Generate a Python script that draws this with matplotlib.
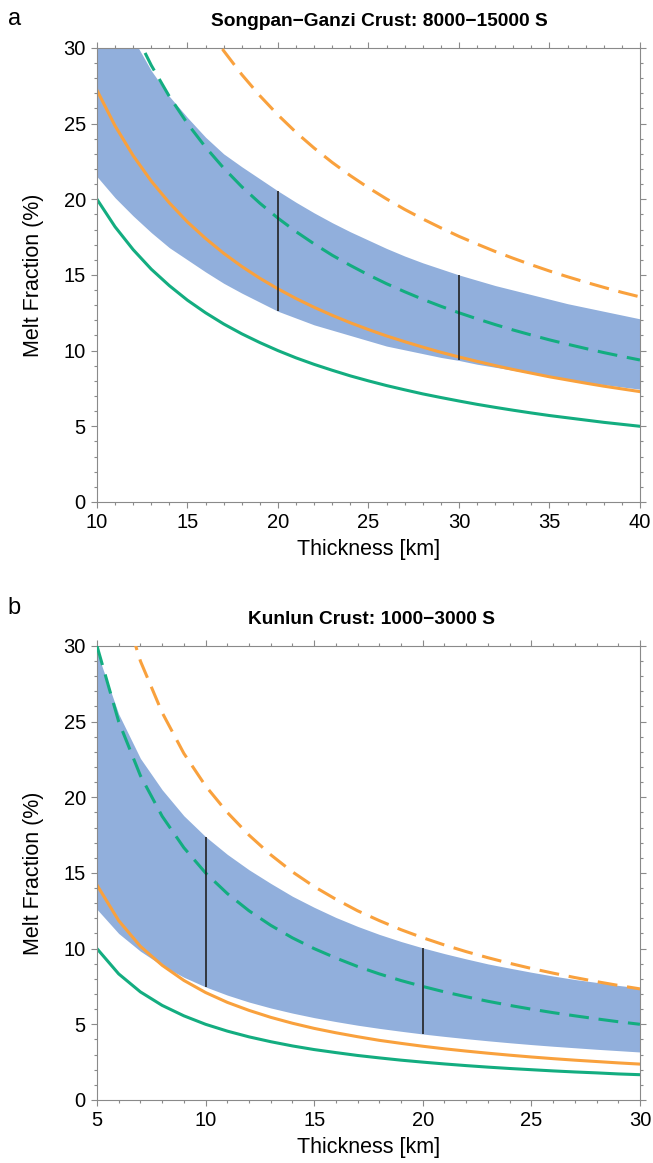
import numpy as np
import matplotlib
matplotlib.use("Agg")
import matplotlib.pyplot as plt
from matplotlib.ticker import MultipleLocator

plt.rcParams['font.family'] = ['Liberation Sans', 'DejaVu Sans']

# ---- panel a: Songpan-Ganzi crust, thickness 10-40 km ----
thick_a = list(range(10, 41))
green_solid_a = [20.0, 18.18, 16.67, 15.38, 14.29, 13.33, 12.5, 11.76, 11.11, 10.53, 10.0,
                 9.52, 9.09, 8.70, 8.33, 8.0, 7.69, 7.41, 7.14, 6.90, 6.67,
                 6.45, 6.25, 6.06, 5.88, 5.71, 5.56, 5.41, 5.26, 5.13, 5.0]
orange_solid_a = [27.2, 24.85, 22.88, 21.2, 19.76, 18.5, 17.41, 16.43, 15.56, 14.78, 14.08,
                  13.44, 12.86, 12.33, 11.84, 11.39, 10.97, 10.59, 10.23, 9.89, 9.58,
                  9.29, 9.01, 8.75, 8.51, 8.27, 8.06, 7.85, 7.65, 7.47, 7.29]
green_dash_a = [37.5, 34.09, 31.25, 28.85, 26.79, 25.0, 23.44, 22.06, 20.83, 19.74, 18.75,
                17.86, 17.05, 16.30, 15.63, 15.0, 14.42, 13.89, 13.39, 12.93, 12.5,
                12.10, 11.72, 11.36, 11.03, 10.71, 10.42, 10.14, 9.87, 9.62, 9.38]
orange_dash_a = [49.62, 45.25, 41.6, 38.52, 35.88, 33.59, 31.58, 29.81, 28.24, 26.84, 25.57,
                 24.42, 23.38, 22.43, 21.56, 20.76, 20.02, 19.33, 18.7, 18.11, 17.55,
                 17.04, 16.55, 16.1, 15.67, 15.26, 14.88, 14.52, 14.18, 13.85, 13.55]
band_hi_a = [35.9, 33.0, 30.6, 28.5, 26.8, 25.4, 24.1, 23.0, 22.15, 21.35, 20.55,
             19.8, 19.1, 18.45, 17.85, 17.3, 16.75, 16.25, 15.8, 15.4, 15.0,
             14.65, 14.3, 14.0, 13.7, 13.4, 13.1, 12.85, 12.6, 12.35, 12.1]
band_lo_a = [21.5, 20.1, 18.9, 17.8, 16.8, 16.0, 15.2, 14.45, 13.8, 13.2, 12.6,
             12.15, 11.7, 11.35, 11.0, 10.65, 10.3, 10.05, 9.8, 9.55, 9.35,
             9.1, 8.9, 8.7, 8.5, 8.3, 8.1, 7.92, 7.75, 7.6, 7.45]
marks_a = [20, 30]

# ---- panel b: Kunlun crust, thickness 5-30 km ----
thick_b = list(range(5, 31))
green_solid_b = [10.0, 8.33, 7.14, 6.25, 5.56, 5.0, 4.55, 4.17, 3.85, 3.57, 3.33, 3.13, 2.94,
                 2.78, 2.63, 2.5, 2.38, 2.27, 2.17, 2.08, 2.0, 1.92, 1.85, 1.79, 1.72, 1.67]
orange_solid_b = [14.2, 11.85, 10.15, 8.9, 7.9, 7.1, 6.45, 5.92, 5.46, 5.07, 4.73, 4.44, 4.18,
                  3.94, 3.74, 3.55, 3.38, 3.23, 3.09, 2.96, 2.84, 2.73, 2.63, 2.54, 2.45, 2.37]
green_dash_b = [30.0, 25.0, 21.43, 18.75, 16.67, 15.0, 13.64, 12.5, 11.54, 10.71, 10.0, 9.38, 8.82,
                8.33, 7.89, 7.5, 7.14, 6.82, 6.52, 6.25, 6.0, 5.77, 5.56, 5.36, 5.17, 5.0]
orange_dash_b = [40.5, 33.6, 29.0, 25.6, 22.9, 20.75, 19.0, 17.5, 16.2, 15.07, 14.1, 13.26, 12.5,
                 11.85, 11.25, 10.72, 10.24, 9.8, 9.4, 9.03, 8.69, 8.38, 8.09, 7.82, 7.57, 7.34]
band_hi_b = [29.6, 25.5, 22.57, 20.5, 18.78, 17.4, 16.23, 15.21, 14.31, 13.46, 12.73, 12.06, 11.47,
             10.94, 10.47, 10.05, 9.67, 9.32, 8.99, 8.71, 8.44, 8.19, 7.96, 7.77, 7.57, 7.4]
band_lo_b = [12.6, 11.0, 9.83, 8.88, 8.11, 7.47, 6.93, 6.47, 6.08, 5.74, 5.44, 5.18, 4.94,
             4.73, 4.54, 4.36, 4.2, 4.05, 3.91, 3.78, 3.66, 3.55, 3.45, 3.35, 3.26, 3.17]
marks_b = [10, 20]

BLUE = '#91afdc'
ORANGE = '#f9a13d'
GREEN = '#13ad80'
FRAME = '#8a8a8a'

fig = plt.figure(figsize=(6.53, 11.63), dpi=100)
ax_a = fig.add_axes([0.1485, 0.5684, 0.8315, 0.3904])
ax_b = fig.add_axes([0.1485, 0.0542, 0.8315, 0.3904])


def draw_panel(ax, x, gs, os_, gd, od, hi, lo, marks, xlim, title, title_x):
    ax.fill_between(x, lo, hi, color=BLUE, lw=0, zorder=1)
    ax.plot(x, gs, color=GREEN, lw=2.2, zorder=2)
    ax.plot(x, os_, color=ORANGE, lw=2.2, zorder=2)
    ax.plot(x, gd, color=GREEN, lw=2.2, dashes=(6.5, 3.2), zorder=3)
    ax.plot(x, od, color=ORANGE, lw=2.2, dashes=(6.5, 3.2), zorder=3)
    for m in marks:
        i = x.index(m)
        ax.vlines(m, lo[i], hi[i], color='#222222', lw=1.2, zorder=4)

    ax.set_xlim(*xlim)
    ax.set_ylim(0, 30)
    ax.xaxis.set_major_locator(MultipleLocator(5))
    ax.xaxis.set_minor_locator(MultipleLocator(1))
    ax.yaxis.set_major_locator(MultipleLocator(5))
    ax.yaxis.set_minor_locator(MultipleLocator(1))
    ax.tick_params(which='both', direction='out', top=True, right=True,
                   color=FRAME, width=0.8, labelsize=14.5, pad=3.5)
    ax.tick_params(which='major', length=4.5)
    ax.tick_params(which='minor', length=2.5)
    for s in ax.spines.values():
        s.set_color(FRAME)
        s.set_linewidth(0.8)
    ax.set_xlabel('Thickness [km]', fontsize=15.5, labelpad=5)
    ax.set_ylabel('Melt Fraction (%)', fontsize=15.5, labelpad=14)
    ax.set_title(title, fontsize=13.8, fontweight='bold', pad=16, x=title_x)


draw_panel(ax_a, thick_a, green_solid_a, orange_solid_a, green_dash_a, orange_dash_a,
           band_hi_a, band_lo_a, marks_a, (10, 40),
           'Songpan\u2212Ganzi Crust: 8000\u221215000 S', 0.52)
draw_panel(ax_b, thick_b, green_solid_b, orange_solid_b, green_dash_b, orange_dash_b,
           band_hi_b, band_lo_b, marks_b, (5, 30),
           'Kunlun Crust: 1000\u22123000 S', 0.505)

fig.text(0.012, 0.993, 'a', fontsize=17, va='top')
fig.text(0.012, 0.487, 'b', fontsize=17, va='top')

fig.savefig('out.png', dpi=100)
